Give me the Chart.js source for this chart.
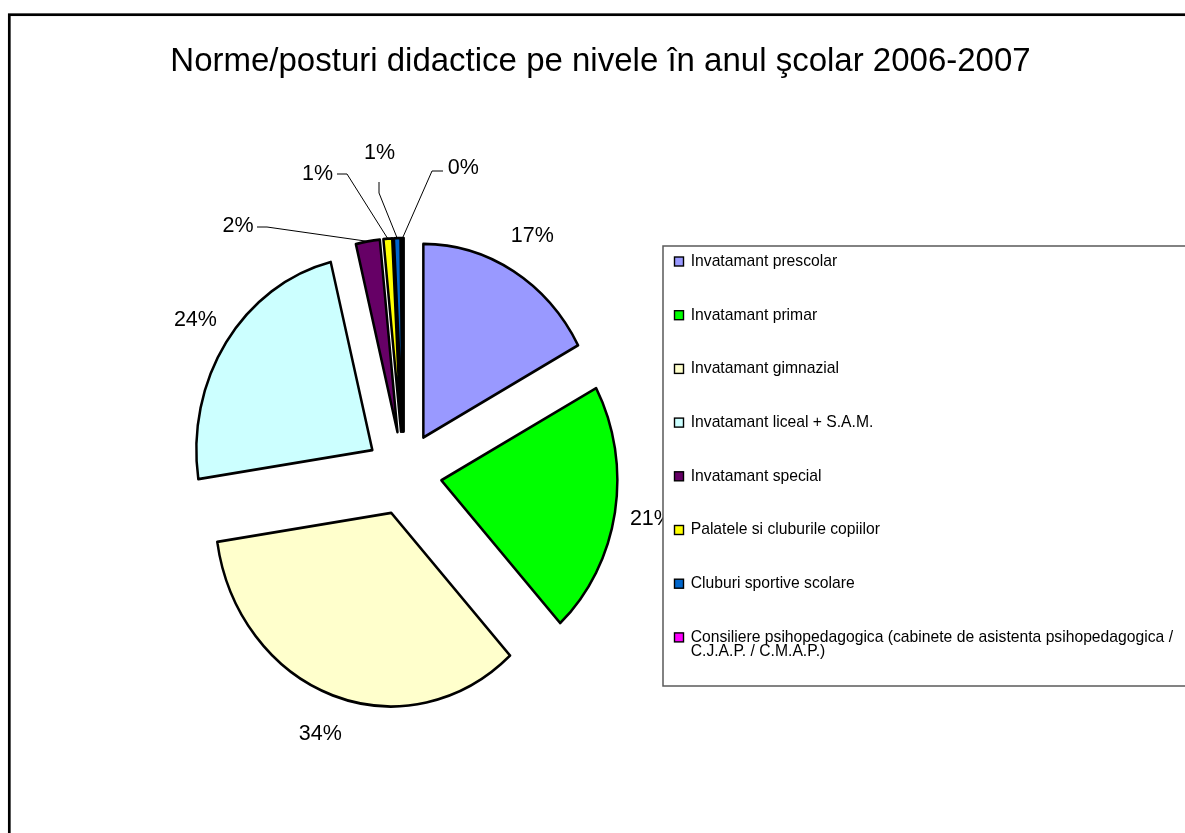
<!DOCTYPE html>
<html>
<head>
<meta charset="utf-8">
<title>Norme/posturi didactice pe nivele</title>
<script src="https://cdn.jsdelivr.net/npm/chart.js@4.4.0/dist/chart.umd.min.js"></script>
<style>
    html, body { margin: 0; padding: 0; background: #fff; }
    canvas { display: block; }
</style>
</head>
<body>
<canvas id="normeChart" width="1185" height="833"></canvas>
<script>
var chartTitle = "Norme/posturi didactice pe nivele în anul şcolar 2006-2007";

var categories = [
    "Invatamant prescolar",
    "Invatamant primar",
    "Invatamant gimnazial",
    "Invatamant liceal + S.A.M.",
    "Invatamant special",
    "Palatele si cluburile copiilor",
    "Cluburi sportive scolare",
    ["Consiliere psihopedagogica (cabinete de asistenta psihopedagogica /", "C.J.A.P. / C.M.A.P.)"]
];

// share of teaching posts, percent
var percentValues = [17.1, 21.1, 34.4, 23.6, 2.2, 0.8, 0.6, 0.2];

var sliceColors = ["#9999FF", "#00FF00", "#FFFFCC", "#CCFFFF", "#660066", "#FFFF00", "#0066CC", "#FF00FF"];

// geometry of the old excel picture (pie is a bit taller than wide)
var PIE_X = 403.9, PIE_Y = 473.4, PIE_R = 176;
var STRETCH_Y = 1.1;
var EXPLODE = 38;
var LABEL_R = 251;
var FONT = "'Liberation Sans', Arial, sans-serif";

// small slices get their labels pulled out with a leader line
var leaderLabels = {
    4: { x: 238, y: 226, path: [[257, 227], [267, 227]] },
    5: { x: 317.5, y: 174, path: [[337, 174], [347, 174]] },
    6: { x: 379.5, y: 153, path: [[379, 182], [379, 193]] },
    7: { x: 463.3, y: 168, path: [[443, 171], [432, 171]] }
};

var excelLook = {
    id: 'excelLook',
    beforeDatasetDraw: function (chart, args) {
        var ctx = chart.ctx;
        args.meta.data.forEach(function (arc) {
            var mid = (arc.startAngle + arc.endAngle) / 2;
            ctx.save();
            ctx.translate(arc.x, arc.y);
            ctx.scale(1, STRETCH_Y);
            ctx.translate(Math.cos(mid) * EXPLODE, Math.sin(mid) * EXPLODE);
            ctx.translate(-arc.x, -arc.y);
            arc.draw(ctx, chart.chartArea);
            ctx.restore();
        });
        return false;
    },
    afterDraw: function (chart) {
        var ctx = chart.ctx;
        var meta = chart.getDatasetMeta(0);
        var total = percentValues.reduce(function (a, b) { return a + b; }, 0);

        ctx.save();

        // outer frame
        ctx.strokeStyle = '#000';
        ctx.lineWidth = 2.7;
        ctx.strokeRect(9.3, 14.7, 1250, 900);

        // title
        ctx.fillStyle = '#000';
        ctx.font = "33px " + FONT;
        ctx.textAlign = 'center';
        ctx.textBaseline = 'alphabetic';
        ctx.fillText(chartTitle, 600.5, 71);

        // percent labels
        ctx.font = "21.5px " + FONT;
        ctx.textBaseline = 'middle';
        ctx.lineWidth = 1;
        ctx.strokeStyle = '#000';
        meta.data.forEach(function (arc, i) {
            var mid = (arc.startAngle + arc.endAngle) / 2;
            var text = Math.round(percentValues[i] / total * 100) + '%';
            var lead = leaderLabels[i];
            if (lead) {
                var ex = arc.x + Math.cos(mid) * (EXPLODE + PIE_R);
                var ey = arc.y + Math.sin(mid) * (EXPLODE + PIE_R) * STRETCH_Y;
                ctx.beginPath();
                ctx.moveTo(lead.path[0][0], lead.path[0][1]);
                for (var p = 1; p < lead.path.length; p++) {
                    ctx.lineTo(lead.path[p][0], lead.path[p][1]);
                }
                ctx.lineTo(ex, ey);
                ctx.stroke();
                ctx.fillText(text, lead.x, lead.y);
            } else {
                ctx.fillText(text, arc.x + Math.cos(mid) * LABEL_R, arc.y + Math.sin(mid) * LABEL_R * STRETCH_Y);
            }
        });

        // legend box
        ctx.fillStyle = '#fff';
        ctx.fillRect(663, 246, 600, 440);
        ctx.strokeStyle = '#5a5a5a';
        ctx.lineWidth = 1.5;
        ctx.strokeRect(663, 246, 600, 440);

        ctx.font = "15.7px " + FONT;
        ctx.textAlign = 'left';
        categories.forEach(function (label, i) {
            var rowY = 261.5 + i * 53.7;
            ctx.fillStyle = sliceColors[i];
            ctx.fillRect(674.5, rowY - 4.5, 9, 9);
            ctx.strokeStyle = '#000';
            ctx.lineWidth = 1.4;
            ctx.strokeRect(674.5, rowY - 4.5, 9, 9);
            ctx.fillStyle = '#000';
            var lines = Array.isArray(label) ? label : [label];
            for (var j = 0; j < lines.length; j++) {
                ctx.fillText(lines[j], 690.7, rowY + j * 14.5);
            }
        });

        ctx.restore();
    }
};

var normeChart = new Chart(document.getElementById('normeChart'), {
    type: 'pie',
    data: {
        labels: categories,
        datasets: [{
            data: percentValues,
            backgroundColor: sliceColors,
            borderColor: '#000',
            borderWidth: 2.5,
            borderJoinStyle: 'round',
            radius: PIE_R
        }]
    },
    options: {
        responsive: false,
        animation: false,
        devicePixelRatio: 1,
        events: [],
        layout: {
            padding: { left: PIE_X - 200, right: 1185 - PIE_X - 200, top: PIE_Y - 200, bottom: 833 - PIE_Y - 200 }
        },
        plugins: {
            legend: { display: false },
            title: { display: false },
            tooltip: { enabled: false }
        }
    },
    plugins: [excelLook]
});
</script>
</body>
</html>
